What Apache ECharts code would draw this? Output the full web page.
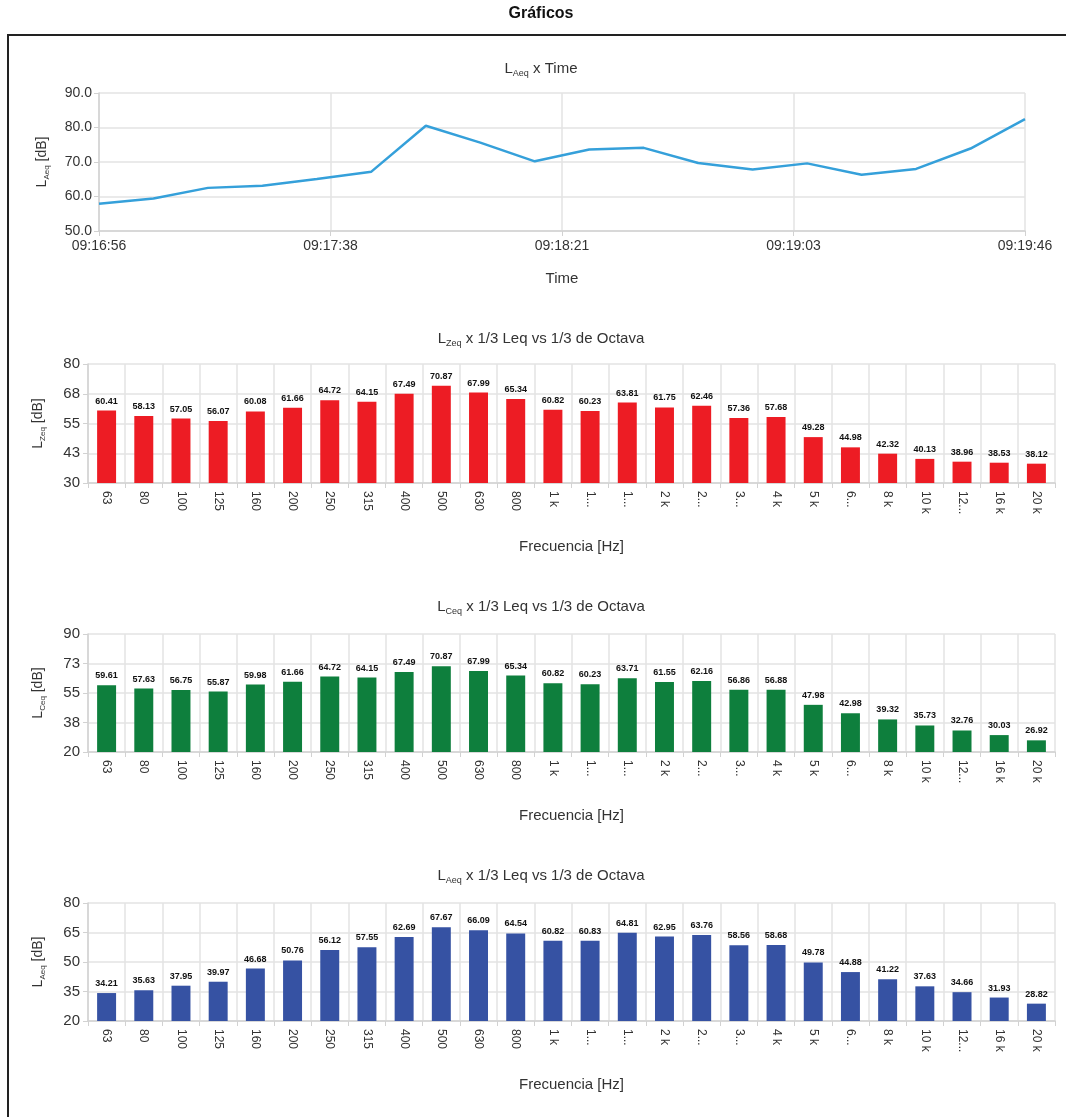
<!DOCTYPE html>
<html><head><meta charset="utf-8">
<script src="https://cdn.jsdelivr.net/npm/echarts@6/dist/echarts.min.js"></script>
<style>html,body{margin:0;padding:0;background:#fff}#c{width:1066px;height:1117px}</style>
</head><body><div id="c"></div>
<script>
const mainTitle = 'Gráficos';
const timeLabels = ['09:16:56','09:17:06','09:17:16','09:17:26','09:17:36','09:17:46','09:17:56','09:18:06','09:18:16','09:18:26','09:18:36','09:18:46','09:18:56','09:19:06','09:19:16','09:19:26','09:19:36','09:19:46'];
const laeqTime = [57.9,59.4,62.5,63.1,65.1,67.2,80.5,75.6,70.2,73.6,74.1,69.7,67.8,69.6,66.3,68.0,73.9,82.4];
const timeTickLabels = ['09:16:56','09:17:38','09:18:21','09:19:03','09:19:46'];
const lineYTicks = [50,60,70,80,90];

const bands = ['63','80','100','125','160','200','250','315','400','500','630','800','1 k','1...','1...','2 k','2...','3...','4 k','5 k','6...','8 k','10 k','12...','16 k','20 k'];
const lzeq = [60.41,58.13,57.05,56.07,60.08,61.66,64.72,64.15,67.49,70.87,67.99,65.34,60.82,60.23,63.81,61.75,62.46,57.36,57.68,49.28,44.98,42.32,40.13,38.96,38.53,38.12];
const lceq = [59.61,57.63,56.75,55.87,59.98,61.66,64.72,64.15,67.49,70.87,67.99,65.34,60.82,60.23,63.71,61.55,62.16,56.86,56.88,47.98,42.98,39.32,35.73,32.76,30.03,26.92];
const laeq = [34.21,35.63,37.95,39.97,46.68,50.76,56.12,57.55,62.69,67.67,66.09,64.54,60.82,60.83,64.81,62.95,63.76,58.56,58.68,49.78,44.88,41.22,37.63,34.66,31.93,28.82];
const zTicks = [30,42.5,55,67.5,80];
const cTicks = [20,37.5,55,72.5,90];
const aTicks = [20,35,50,65,80];

const FONT = 'Liberation Sans, Arial, Helvetica, sans-serif';
const GRID = '#e3e3e3';
const AXIS = '#d2d2d2';
const TXT = '#333';

function toSec(s){const p=s.split(':').map(Number);return p[0]*3600+p[1]*60+p[2];}
const t0 = toSec(timeLabels[0]);
const tSpan = toSec(timeLabels[timeLabels.length-1]) - t0;
const lineData = timeLabels.map((t,i)=>[toSec(t)-t0, laeqTime[i]]);

const rich = (size)=>({
  l:{fontSize:size,fontFamily:FONT,fontWeight:'normal',color:TXT,lineHeight:20,verticalAlign:'middle'},
  s:{fontSize:Math.round(size*0.6),fontFamily:FONT,fontWeight:'normal',color:TXT,lineHeight:20,verticalAlign:'bottom',padding:[0,0,1,0]}
});
const lab = (sub, rest)=>'{l|L}{s|'+sub+'}{l|'+rest+'}';

const grids = [
  {left:99, top:93, width:926, height:138},
  {left:88, top:364, width:967, height:119},
  {left:88, top:634, width:967, height:118},
  {left:88, top:903, width:967, height:118}
];
const subTops = [59, 329, 597, 866];
const subTitles = [lab('Aeq',' x Time'), lab('Zeq',' x 1/3 Leq vs 1/3 de Octava'), lab('Ceq',' x 1/3 Leq vs 1/3 de Octava'), lab('Aeq',' x 1/3 Leq vs 1/3 de Octava')];
const yNames = [lab('Aeq',' [dB]'), lab('Zeq',' [dB]'), lab('Ceq',' [dB]'), lab('Aeq',' [dB]')];
const barSets = [
  {values:lzeq, color:'#ed1c24', ticks:zTicks},
  {values:lceq, color:'#0e7f3d', ticks:cTicks},
  {values:laeq, color:'#3652a3', ticks:aTicks}
];

const title = [{text:mainTitle, left:541, top:6, textAlign:'center', padding:0,
  textStyle:{fontFamily:FONT, fontSize:16, fontWeight:'bold', color:'#111'}}];
subTitles.forEach((t,i)=>title.push({text:t, left:541, top:subTops[i], textAlign:'center', padding:0,
  textStyle:{fontWeight:'normal', rich:rich(15)}}));

const xAxis = [{
  type:'value', gridIndex:0, min:0, max:tSpan, interval:tSpan/4,
  name:'Time', nameLocation:'middle', nameGap:40,
  nameTextStyle:{fontFamily:FONT, fontSize:15, color:TXT},
  axisLine:{show:true, lineStyle:{color:AXIS, width:1.5}},
  axisTick:{show:true, length:5, lineStyle:{color:AXIS}},
  splitLine:{show:true, lineStyle:{color:GRID, width:1.5}},
  axisLabel:{fontFamily:FONT, fontSize:14, color:TXT, margin:8,
    formatter:(v)=>timeTickLabels[Math.round(v/(tSpan/4))]}
}];
const yAxis = [{
  type:'value', gridIndex:0, min:lineYTicks[0], max:lineYTicks[lineYTicks.length-1], interval:lineYTicks[1]-lineYTicks[0],
  name:yNames[0], nameLocation:'middle', nameGap:47, nameRotate:90,
  nameTextStyle:{rich:rich(14)},
  axisLine:{show:true, lineStyle:{color:AXIS, width:1.5}},
  axisTick:{show:true, length:5, lineStyle:{color:AXIS}},
  splitLine:{show:true, lineStyle:{color:GRID, width:1.5}},
  axisLabel:{fontFamily:FONT, fontSize:14, color:TXT, margin:7, formatter:(v)=>v.toFixed(1)}
}];
const series = [{
  type:'line', xAxisIndex:0, yAxisIndex:0, data:lineData, showSymbol:false,
  lineStyle:{color:'#35a0da', width:2.5}, itemStyle:{color:'#35a0da'}
}];

barSets.forEach((b,k)=>{
  const gi = k+1;
  xAxis.push({
    type:'category', gridIndex:gi, data:bands, boundaryGap:true,
    name:'Frecuencia [Hz]', nameLocation:'middle', nameGap:56,
    nameTextStyle:{fontFamily:FONT, fontSize:15, color:TXT},
    axisLine:{show:true, lineStyle:{color:AXIS, width:1.5}},
    axisTick:{show:true, length:5, alignWithLabel:false, lineStyle:{color:AXIS}},
    splitLine:{show:true, lineStyle:{color:GRID, width:1.5}},
    axisLabel:{fontFamily:FONT, fontSize:12, color:TXT, rotate:-90, margin:8, interval:0}
  });
  yAxis.push({
    type:'value', gridIndex:gi, min:b.ticks[0], max:b.ticks[b.ticks.length-1],
    name:yNames[gi], nameLocation:'middle', nameGap:40, nameRotate:90,
    nameTextStyle:{rich:rich(14)},
    axisLine:{show:true, lineStyle:{color:AXIS, width:1.5}},
    axisTick:{show:true, length:5, customValues:b.ticks, lineStyle:{color:AXIS}},
    splitLine:{show:true, lineStyle:{color:GRID, width:1.5}},
    axisLabel:{fontFamily:FONT, fontSize:15, color:TXT, margin:8, customValues:b.ticks,
      formatter:(v)=>String(Math.round(v))}
  });
  series.push({
    type:'bar', xAxisIndex:gi, yAxisIndex:gi, data:b.values, barWidth:'51%',
    itemStyle:{color:b.color},
    label:{show:true, position:'top', distance:5, fontFamily:FONT, fontSize:9, fontWeight:'bold', color:'#111',
      formatter:(p)=>p.value.toFixed(2)}
  });
});

const chart = echarts.init(document.getElementById('c'), null, {renderer:'canvas'});
chart.setOption({
  animation:false,
  backgroundColor:'#fff',
  title, grid:grids, xAxis, yAxis, series,
  graphic:[{type:'rect', shape:{x:8, y:35, width:1100, height:1150}, style:{fill:'none', stroke:'#222', lineWidth:2}, silent:true}]
});
</script></body></html>
